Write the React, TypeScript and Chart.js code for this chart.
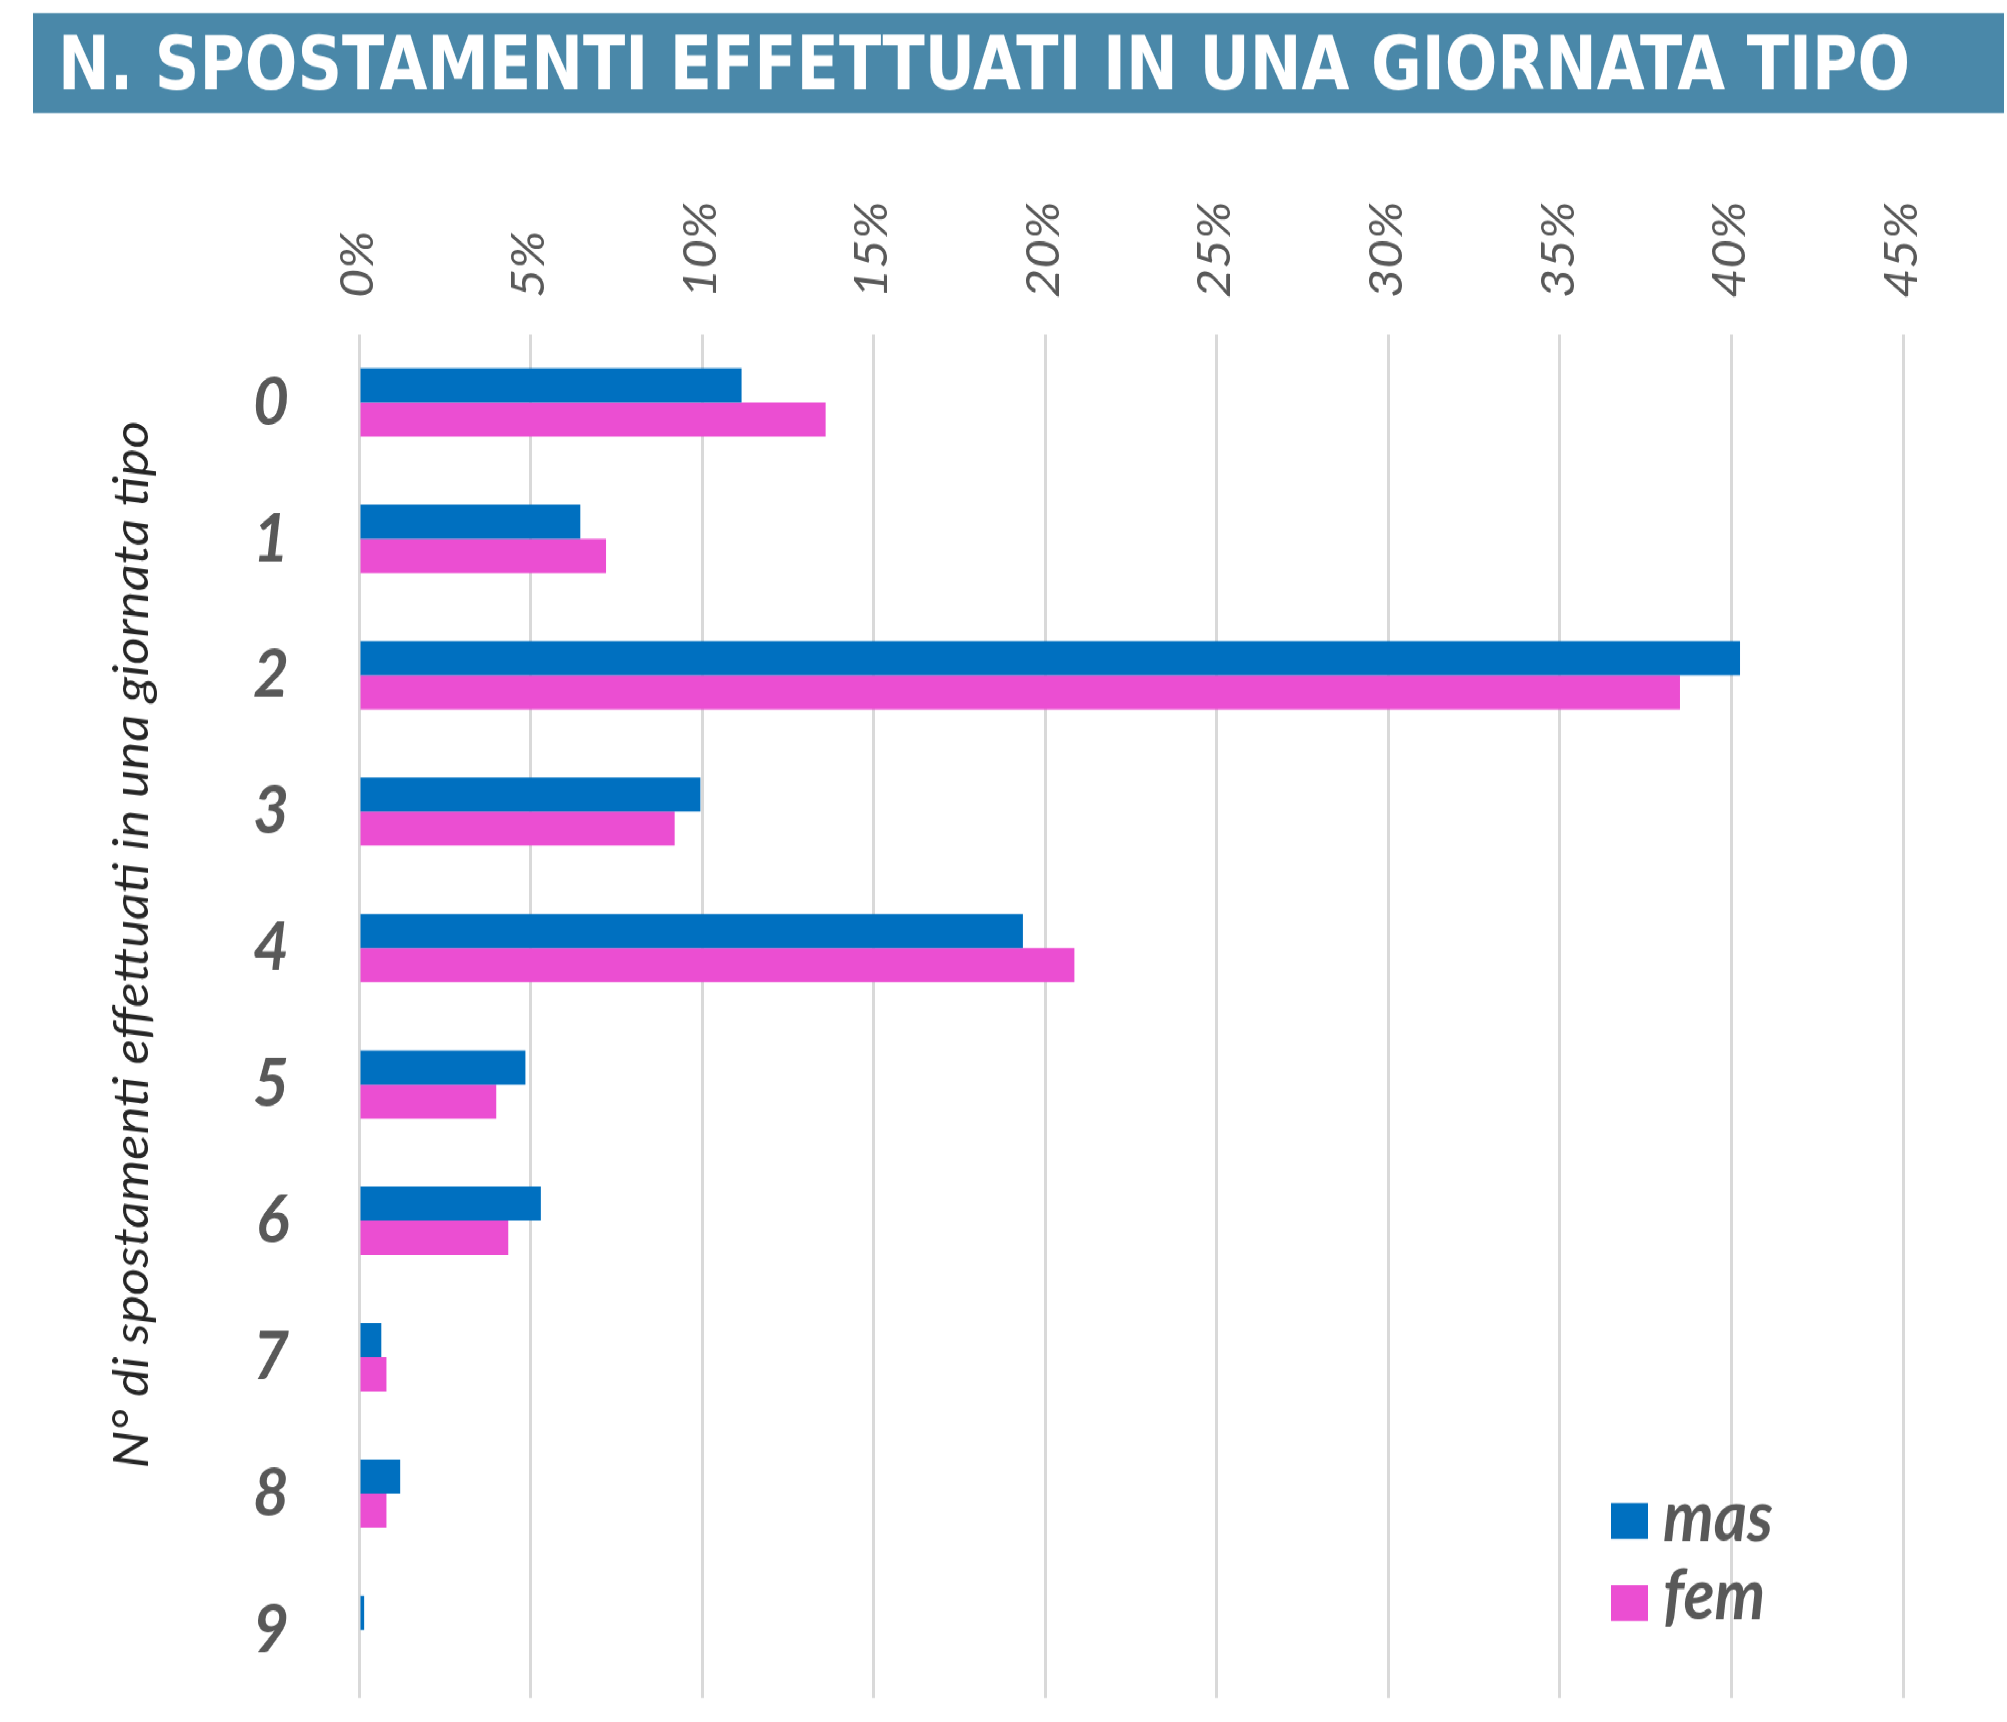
import React, { useEffect, useRef } from 'react';
import { Chart, registerables } from 'chart.js';

Chart.register(...registerables);

const TITLE = 'N. SPOSTAMENTI EFFETTUATI IN UNA GIORNATA TIPO';
const Y_TITLE = 'N° di spostamenti effettuati in una giornata tipo';
const categories = ['0', '1', '2', '3', '4', '5', '6', '7', '8', '9'];
const seriesNames = ['mas', 'fem'];
const masValues = [11.15, 6.45, 40.25, 9.95, 19.35, 4.85, 5.3, 0.65, 1.2, 0.15];
const femValues = [13.6, 7.2, 38.5, 9.2, 20.85, 4.0, 4.35, 0.8, 0.8, 0];
const xTickLabels = ['0%', '5%', '10%', '15%', '20%', '25%', '30%', '35%', '40%', '45%'];
const X_MAX = 45;
const X_STEP = 5;
const seriesColors = ['#0070C0', '#EB4ED2'];

const STRETCH = 1.1;
const W = 2007;
const H = 1722 / STRETCH;
const PLOT_LEFT = 359;
const PLOT_RIGHT = 1903;
const PLOT_TOP = 334 / STRETCH;
const PLOT_BOTTOM = 1697 / STRETCH;

const decorPlugin = {
  id: 'decor',
  beforeDraw(chart: any) {
    const ctx = chart.ctx;
    ctx.save();
    // banner
    ctx.fillStyle = '#4A88A9';
    ctx.fillRect(33, 13 / STRETCH, 2004 - 33, (113 - 13) / STRETCH);
    ctx.font = 'bold 67px "DejaVu Sans"';
    ctx.fillStyle = '#FFFFFF';
    ctx.textBaseline = 'alphabetic';
    ctx.textAlign = 'left';
    const w = ctx.measureText(TITLE).width;
    const sx = (1910 - 58) / w;
    ctx.translate(58, 89 / STRETCH);
    ctx.scale(sx, 1);
    ctx.fillText(TITLE, 0, 0);
    ctx.restore();
  },
  afterDraw(chart: any) {
    const ctx = chart.ctx;
    // y axis title
    ctx.save();
    ctx.font = 'italic 48px Lato';
    ctx.fillStyle = '#262626';
    ctx.textAlign = 'center';
    ctx.textBaseline = 'alphabetic';
    ctx.translate(148, 944 / STRETCH);
    ctx.rotate(-Math.PI / 2);
    ctx.fillText(Y_TITLE, 0, 0);
    ctx.restore();
    // legend
    ctx.save();
    const sq = [1502 / STRETCH, 1584 / STRETCH];
    const base = [1540 / STRETCH, 1618 / STRETCH];
    chart.data.datasets.forEach((ds: any, i: number) => {
      ctx.fillStyle = ds.backgroundColor;
      ctx.fillRect(1611, sq[i], 37, 36 / STRETCH);
      ctx.font = 'italic bold 64px Lato';
      ctx.fillStyle = '#595959';
      ctx.textAlign = 'left';
      ctx.textBaseline = 'alphabetic';
      ctx.fillText(ds.label, 1663, base[i]);
    });
    ctx.restore();
  },
};

export default function App() {
  const ref = useRef<HTMLCanvasElement | null>(null);
  useEffect(() => {
    if (!ref.current) return;
    const chart = new Chart(ref.current, {
      type: 'bar',
      data: {
        labels: categories,
        datasets: [
          { label: seriesNames[0], data: masValues, backgroundColor: seriesColors[0], categoryPercentage: 0.5, barPercentage: 1.0 },
          { label: seriesNames[1], data: femValues, backgroundColor: seriesColors[1], categoryPercentage: 0.5, barPercentage: 1.0 },
        ],
      },
      options: {
        indexAxis: 'y',
        animation: false,
        responsive: true,
        maintainAspectRatio: false,
        layout: { padding: { left: 0, right: W - PLOT_RIGHT, top: 0, bottom: H - PLOT_BOTTOM } },
        plugins: { legend: { display: false }, title: { display: false }, tooltip: { enabled: false } },
        scales: {
          x: {
            position: 'top',
            min: 0,
            max: X_MAX,
            ticks: {
              stepSize: X_STEP,
              minRotation: 90,
              maxRotation: 90,
              padding: 33,
              labelOffset: 54,
              color: '#595959',
              font: { family: 'Lato', style: 'italic', size: 46 },
              callback: (_v: any, i: number) => xTickLabels[i],
            },
            grid: { color: '#d9d9d9', lineWidth: 3, drawTicks: false },
            border: { display: false },
            afterFit: (s: any) => { s.height = PLOT_TOP; s.paddingLeft = 0; s.paddingRight = 0; },
          },
          y: {
            ticks: {
              padding: 62,
              color: '#595959',
              font: { family: 'Lato', style: 'italic', weight: 'bold', size: 62 },
            },
            grid: { display: false },
            border: { display: false },
            afterFit: (s: any) => { s.width = PLOT_LEFT; s.paddingTop = 0; s.paddingBottom = 0; },
          },
        },
      } as any,
      plugins: [decorPlugin],
    });
    return () => chart.destroy();
  }, []);
  return (
    <div style={{ position: 'absolute', left: 0, top: 0, width: W, height: H, transform: `scaleY(${STRETCH})`, transformOrigin: '0 0', background: '#fff' }}>
      <canvas ref={ref} />
    </div>
  );
}
